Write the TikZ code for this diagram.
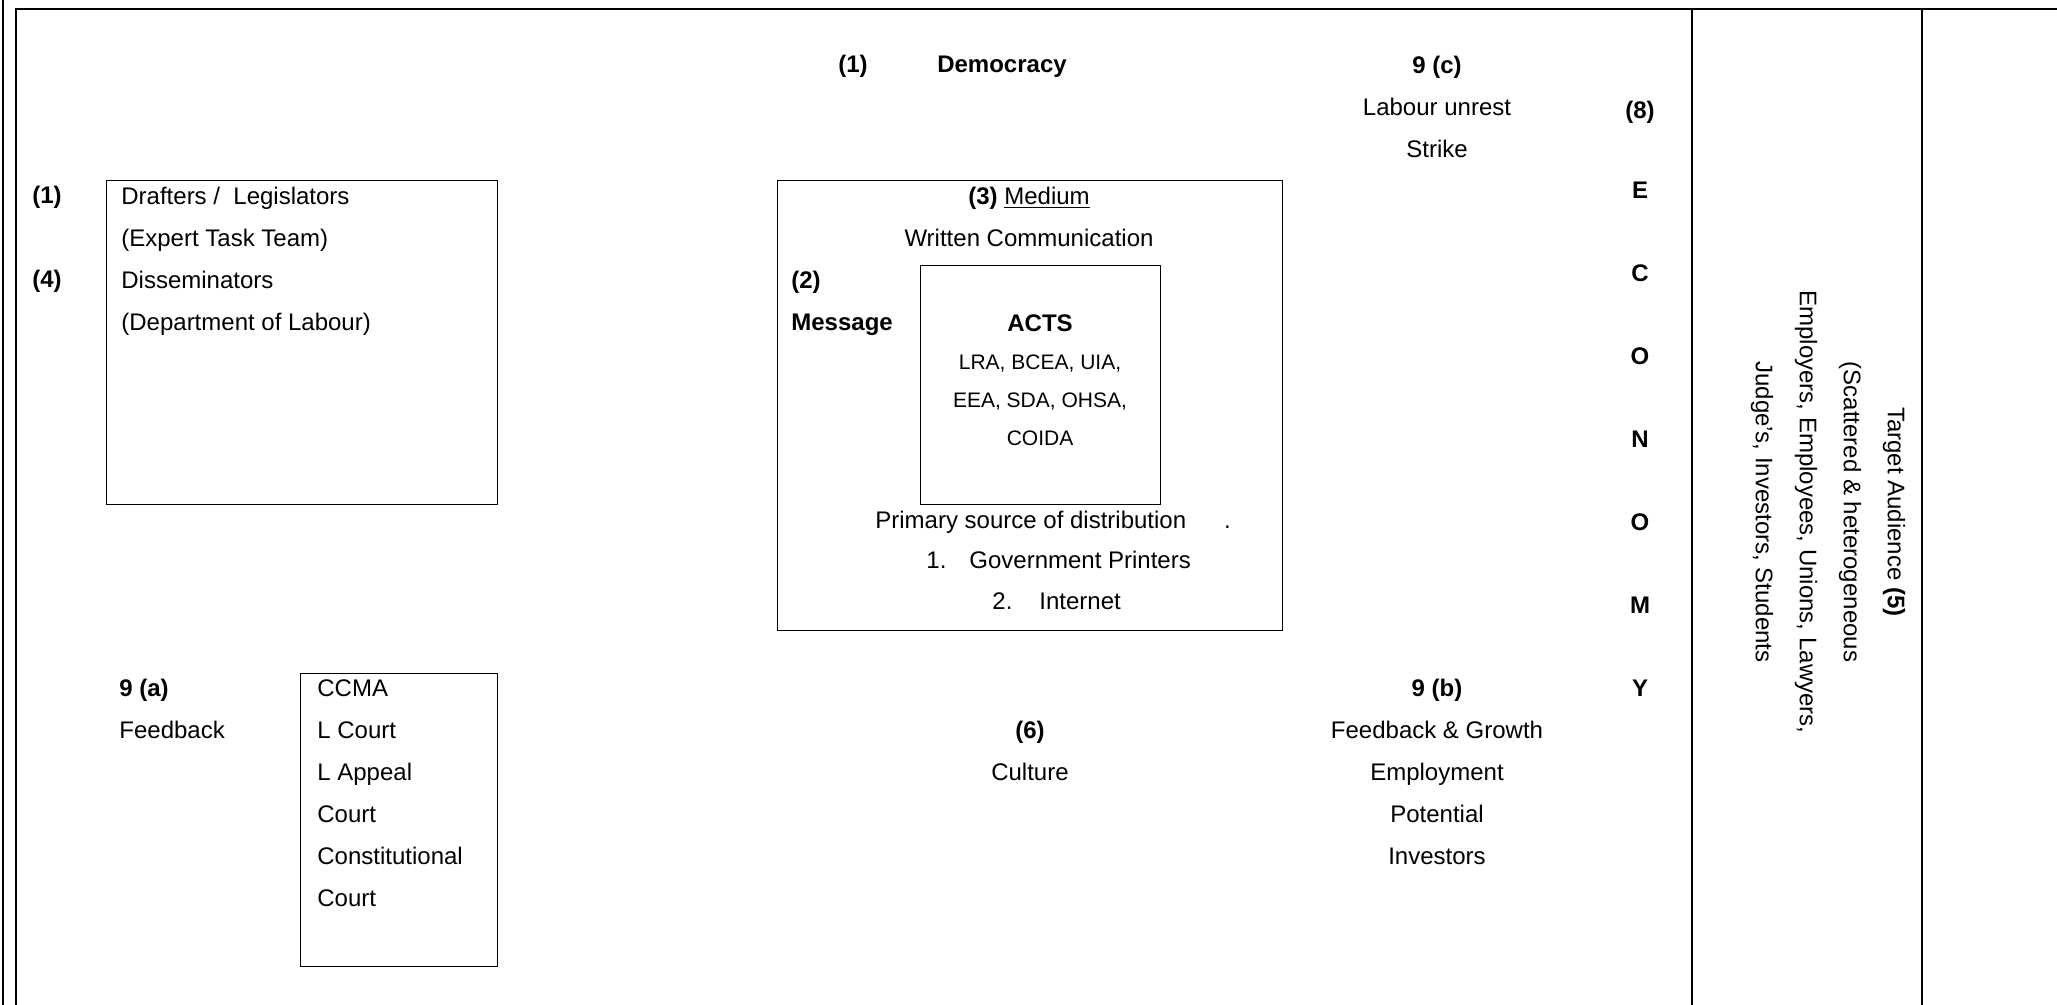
\documentclass[tikz,border=0pt]{standalone}
\usepackage{fontspec}
\setmainfont{Liberation Sans}
\usepackage{tikz}
\usetikzlibrary{positioning}
\tikzset{
  framerule/.style={line width=1pt},
  panel/.style={draw, line width=.6pt, anchor=north west, inner sep=0pt},
  body/.style={font=\fontsize{12}{21}\selectfont, inner sep=0pt, execute at begin node=\strut},
  numtag/.style={body, font=\fontsize{12}{21}\selectfont\bfseries},
  ecoletter/.style={font=\fontsize{12}{14}\selectfont\bfseries, inner sep=0pt},
  actlist/.style={font=\fontsize{10.5}{19}\selectfont, inner sep=0pt, align=center, execute at begin node=\strut},
  audience/.style={font=\fontsize{12}{22}\selectfont, inner sep=0pt, align=center, rotate=-90}
}
\begin{document}
\begin{tikzpicture}[x=0.5pt, y=-0.5pt]
  \useasboundingbox (0,0) rectangle (2057,1005);

  % page frame
  \draw[framerule] (3,0) -- (3,1005);
  \draw[framerule] (16,1005) -- (16,9) -- (2057,9);
  \draw[framerule] (1692,9) -- (1692,1005);
  \draw[framerule] (1922,9) -- (1922,1005);

  % top row
  \node[numtag, anchor=north] (demnum) at (853,43) {(1)};
  \node[numtag, anchor=north] (democracy) at (1002,43) {Democracy};
  \node[body, anchor=north, align=center] (unrest) at (1437,56)
    {\textbf{9 (c)}\\Labour unrest\\Strike};

  % economy column
  \node[numtag, anchor=north] (economy) at (1640,89) {(8)};
  \node[ecoletter] (ecoE) at (1640,190) {E};
  \node[ecoletter] (ecoC) at (1640,273) {C};
  \node[ecoletter] (ecoO) at (1640,356) {O};
  \node[ecoletter] (ecoN) at (1640,439) {N};
  \node[ecoletter] (ecoOb) at (1640,522) {O};
  \node[ecoletter] (ecoM) at (1640,605) {M};
  \node[ecoletter] (ecoY) at (1640,688) {Y};

  % senders
  \node[numtag, anchor=north] (drafnum) at (47,174) {(1)};
  \node[numtag, anchor=north] (dissnum) at (47,258) {(4)};
  \node[panel, minimum width=195.5pt, minimum height=162pt] (senders) at (106,180) {};
  \node[body, anchor=north west, align=left] (senderstext) at (121,187)
    {Drafters / \ Legislators\\(Expert Task Team)\\Disseminators\\(Department of Labour)};

  % medium and message
  \node[panel, minimum width=252.5pt, minimum height=225pt] (medium) at (777,180) {};
  \node[body, anchor=north, align=center] (mediumtitle) at (1029,187)
    {\textbf{(3)} \underline{Medium}\\Written Communication};
  \node[numtag, anchor=north west, align=left] (message) at (791,271) {(2)\\Message};
  \node[panel, minimum width=120pt, minimum height=119.5pt] (acts) at (920,265) {};
  \node[numtag, anchor=north] (actstitle) at (1040,302) {ACTS};
  \node[actlist, anchor=north] (actslist) at (1040,354)
    {LRA, BCEA, UIA,\\EEA, SDA, OHSA,\\COIDA};
  \node[body, anchor=north west] (distribution) at (875,499)
    {Primary source of distribution\hspace{19pt}.};
  \node[body, anchor=north west] (printers) at (926,539) {1.\hspace{11.5pt}Government Printers};
  \node[body, anchor=north west] (internet) at (992,580) {2.\hspace{13.5pt}Internet};

  % feedback row
  \node[body, anchor=north west, align=left] (feedback) at (119,679)
    {\textbf{9 (a)}\\Feedback};
  \node[panel, minimum width=98.5pt, minimum height=146.5pt] (courts) at (300,673) {};
  \node[body, anchor=north west, align=left] (courtstext) at (317,679)
    {CCMA\\L Court\\L Appeal\\Court\\Constitutional\\Court};
  \node[body, anchor=north, align=center] (culture) at (1030,721)
    {\textbf{(6)}\\Culture};
  \node[body, anchor=north, align=center] (growth) at (1437,679)
    {\textbf{9 (b)}\\Feedback \& Growth\\Employment\\Potential\\Investors};

  % target audience
  \node[audience] (target) at (1828,512)
    {Target Audience \textbf{(5)}\\(Scattered \& heterogeneous\\Employers, Employees, Unions, Lawyers,\\Judge's, Investors, Students};
\end{tikzpicture}
\end{document}
